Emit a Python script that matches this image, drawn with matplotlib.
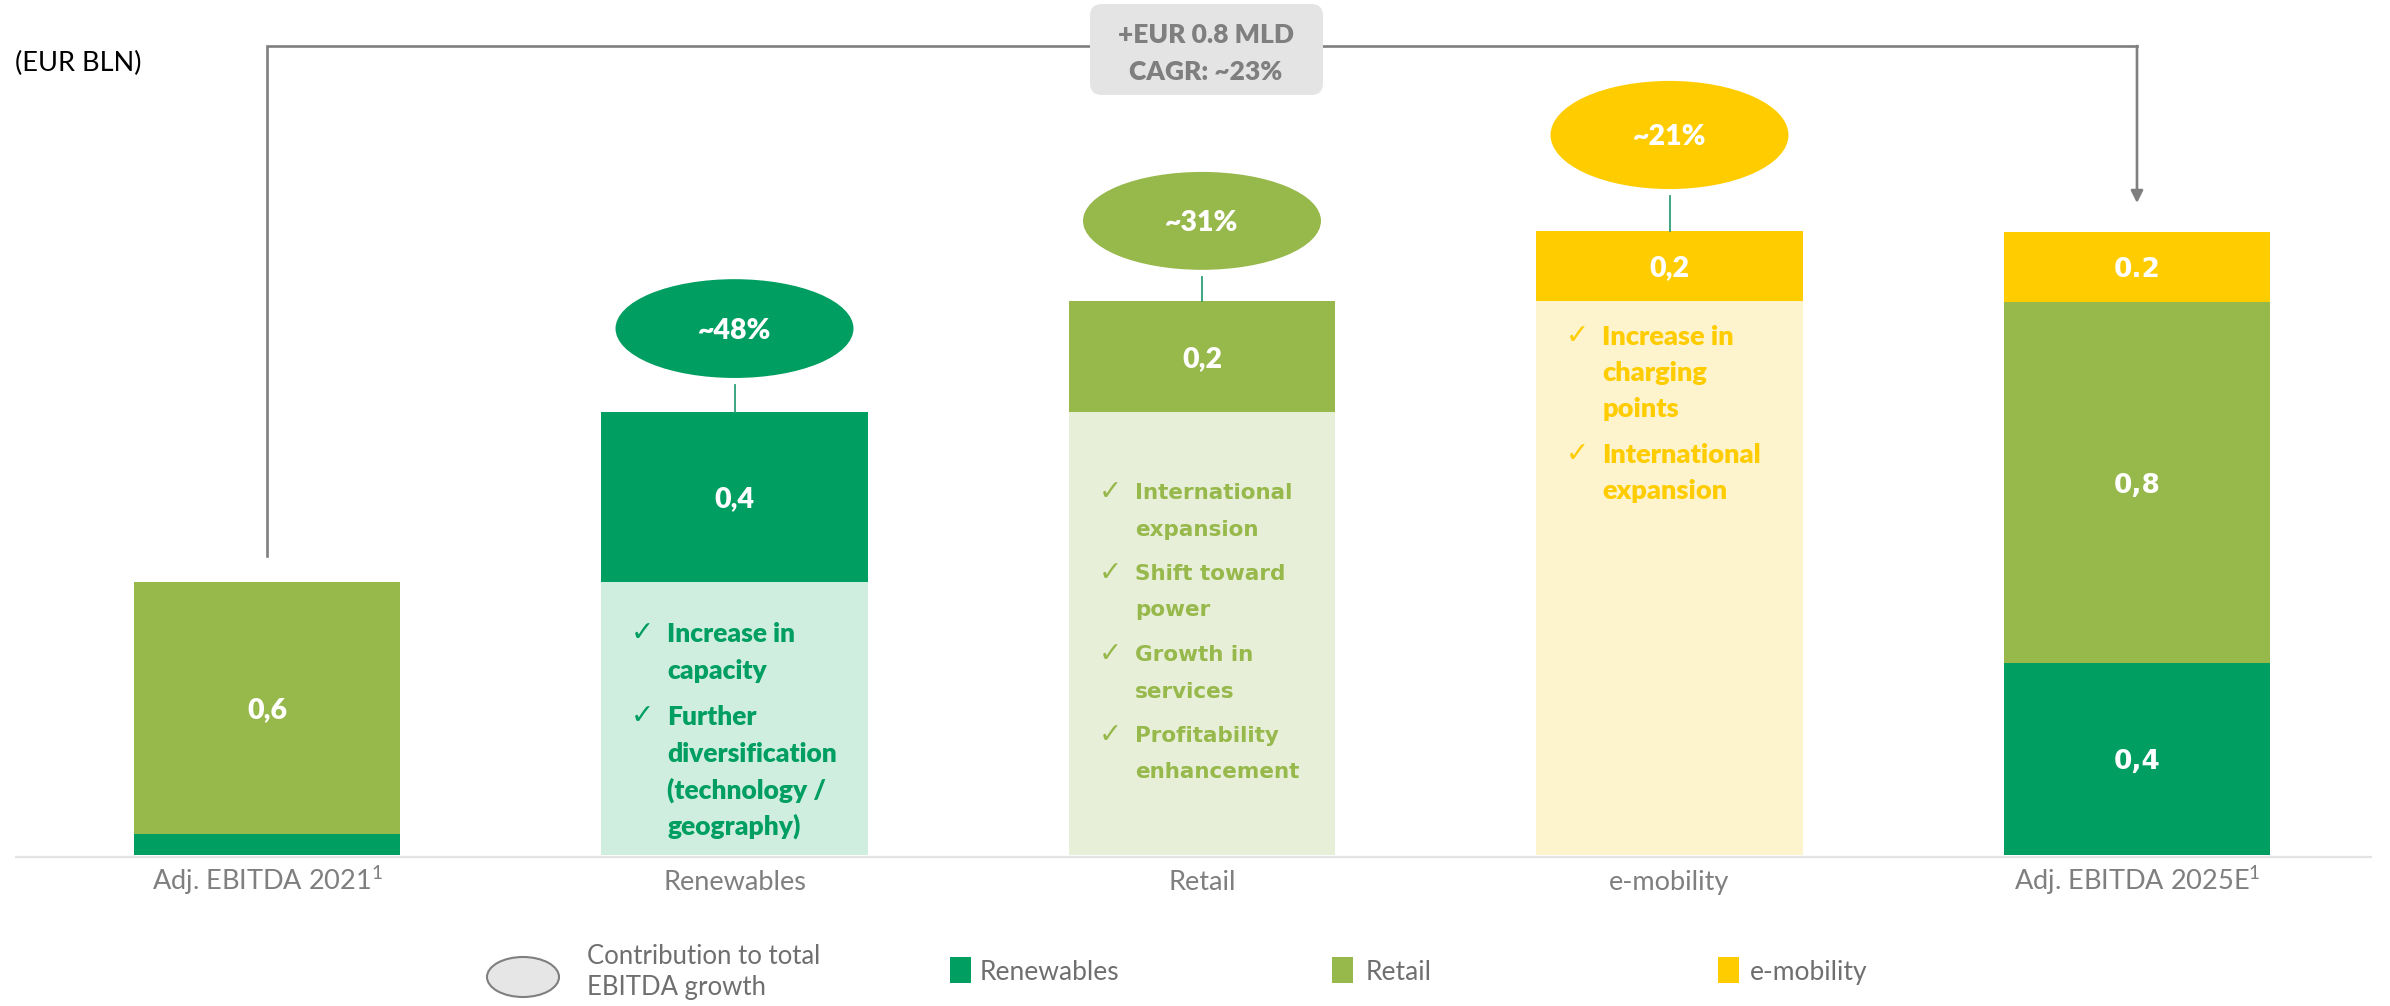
import matplotlib
matplotlib.use("Agg")
import matplotlib.pyplot as plt
from matplotlib.patches import Ellipse, FancyBboxPatch, Rectangle
import numpy as np

# ---------------- data ----------------
categories = ["Adj. EBITDA 2021", "Renewables", "Retail", "e-mobility", "Adj. EBITDA 2025E"]
tick_labels = ["Adj. EBITDA 2021$^{1}$", "Renewables", "Retail", "e-mobility", "Adj. EBITDA 2025E$^{1}$"]
segments = ["Renewables", "Retail", "e-mobility"]
start_2021 = [0.048, 0.565, 0.0]      # EUR bn, by segment
growth = [0.383, 0.250, 0.157]        # EUR bn, growth by segment
end_2025 = [0.431, 0.811, 0.157]      # EUR bn, by segment
start_labels = ["", "0,6", ""]
growth_labels = ["0,4", "0,2", "0,2"]
end_labels = ["0,4", "0,8", "0.2"]
contribution = ["~48%", "~31%", "~21%"]
bullets = [
    [["Increase in", "capacity"], ["Further", "diversification", "(technology /", "geography)"]],
    [["International", "expansion"], ["Shift toward", "power"], ["Growth in", "services"],
     ["Profitability", "enhancement"]],
    [["Increase in", "charging", "points"], ["International", "expansion"]],
]
box_text = ["+EUR 0.8 MLD", "CAGR: ~23%"]
unit_label = "(EUR BLN)"
legend_ellipse_label = "Contribution to total\nEBITDA growth"

# ---------------- style ----------------
COLORS = ["#009E60", "#97B84B", "#FFCC00"]
BG_COLORS = ["#CFEEE0", "#E8EFD9", "#FDF3CC"]
GREY = "#7F7F7F"
W, H = 2390, 1006
BASE_PX = 855          # pixel row of the baseline
PXU_Y = 445.0          # pixels per EUR bn
PXU_X = 467.5          # pixels per category step
X0_PX = 267            # pixel column of first category
BW = 0.57
BOLD = "heavy"

def py(p):  # pixel row -> data y (layout helper)
    return (BASE_PX - p) / PXU_Y

def pxx(p):  # pixel column -> data x (layout helper)
    return (p - X0_PX) / PXU_X

fig = plt.figure(figsize=(W / 100, H / 100), dpi=100)
plt.rcParams["mathtext.fontset"] = "custom"
plt.rcParams["mathtext.rm"] = "Lato"
plt.rcParams["mathtext.it"] = "Lato:italic"
plt.rcParams["mathtext.bf"] = "Lato:bold"

ax = fig.add_axes([0, (H - BASE_PX) / H, 1, BASE_PX / H])
ax.set_xlim(-X0_PX / PXU_X, (W - X0_PX) / PXU_X)
ax.set_ylim(0, BASE_PX / PXU_Y)
ax.axis("off")

x = np.arange(len(categories))

# baseline
ax.plot([pxx(15), pxx(2372)], [py(857), py(857)], color="#E3E3E3", lw=1.6, zorder=0.5,
        clip_on=False, solid_capstyle="butt")

# first bar (stacked)
bottom = 0.0
for i, seg in enumerate(segments):
    v = start_2021[i]
    if v > 0:
        ax.bar(x[0], v, bottom=bottom, width=BW, color=COLORS[i], zorder=2)
        if start_labels[i]:
            ax.text(x[0], bottom + v / 2, start_labels[i], ha="center", va="center_baseline",
                    color="white", fontsize=20.5, fontweight=BOLD, family="Lato", zorder=3)
    bottom += v

# floating growth bars with light background columns
base = sum(start_2021)
tops = []
for i, seg in enumerate(segments):
    xi = x[i + 1]
    ax.bar(xi, base, bottom=0, width=BW, color=BG_COLORS[i], zorder=1)
    ax.bar(xi, growth[i], bottom=base, width=BW, color=COLORS[i], zorder=2)
    ax.text(xi, base + growth[i] / 2, growth_labels[i], ha="center", va="center_baseline",
            color="white", fontsize=20.5, fontweight=BOLD, family="Lato", zorder=3)
    base += growth[i]
    tops.append(base)

# final bar (stacked)
bottom = 0.0
for i, seg in enumerate(segments):
    v = end_2025[i]
    ax.bar(x[4], v, bottom=bottom, width=BW, color=COLORS[i], zorder=2)
    ax.text(x[4], bottom + v / 2, end_labels[i], ha="center", va="center_baseline",
            color="white", fontsize=19, fontweight="bold", family="DejaVu Sans", zorder=3)
    bottom += v

# contribution ellipses
ell_offset = [0.187, 0.179, 0.215]
ell_height = [0.222, 0.220, 0.243]
ell_width = 0.509
for i in range(3):
    xi = x[i + 1]
    cy = tops[i] + ell_offset[i]
    e = Ellipse((xi, cy), ell_width, ell_height[i], facecolor=COLORS[i], edgecolor="none", zorder=3)
    ax.add_patch(e)
    ax.text(xi, cy, contribution[i], ha="center", va="center_baseline", color="white",
            fontsize=20.5, fontweight=BOLD, family="Lato", zorder=4)
    ax.plot([xi, xi], [tops[i], cy - ell_height[i] / 2 - 0.015], color="#2E9E78", lw=1.3, zorder=2)

# bullet lists
bullet_layout = [  # first line row px, line spacing px, extra gap px, font family, size, weight
    (632.5, 36.5, 9.5, "Lato", 19, BOLD),
    (491.0, 36.5, 8.0, "DejaVu Sans", 15.5, "bold"),
    (335.0, 36.0, 9.6, "Lato", 19.5, BOLD),
]
for i in range(3):
    first, step, gap, fam, fs, wt = bullet_layout[i]
    left = x[i + 1] - BW / 2
    row = first
    for item in bullets[i]:
        ax.text(left + 30 / PXU_X, py(row - 2), "\u2713", ha="left", va="center_baseline",
                color=COLORS[i], fontsize=20, family="DejaVu Sans", zorder=4)
        for line in item:
            ax.text(left + 66 / PXU_X, py(row), line, ha="left", va="center_baseline",
                    color=COLORS[i], fontsize=fs, fontweight=wt, family=fam, zorder=4)
            row += step
        row += gap

# category labels
for i, lab in enumerate(tick_labels):
    ax.text(x[i], py(890), lab, ha="center", va="baseline", color=GREY,
            fontsize=19.5, family="Lato", clip_on=False)

# growth bracket with arrow
ax.plot([x[0], x[0], x[4]], [py(556), py(46), py(46)], color=GREY, lw=1.9,
        solid_joinstyle="miter", zorder=1)
ax.annotate("", xy=(x[4], py(203)), xytext=(x[4], py(46)),
            arrowprops=dict(arrowstyle="-|>", color=GREY, lw=1.9, mutation_scale=18,
                            shrinkA=0, shrinkB=0), zorder=1)

# overlay axes in pixel coordinates for box, unit label and legend
lay = fig.add_axes([0, 0, 1, 1], zorder=5)
lay.set_xlim(0, W)
lay.set_ylim(H, 0)
lay.axis("off")
lay.patch.set_alpha(0)

box = FancyBboxPatch((1090, 4), 233, 91, boxstyle="round,pad=0,rounding_size=12",
                     facecolor="#E4E4E4", edgecolor="none")
lay.add_patch(box)
lay.text(1206, 33, box_text[0], ha="center", va="center_baseline", color=GREY,
         fontsize=19, fontweight=BOLD, family="Lato")
lay.text(1206, 70, box_text[1], ha="center", va="center_baseline", color=GREY,
         fontsize=19, fontweight=BOLD, family="Lato")

lay.text(15, 61, unit_label, ha="left", va="center_baseline", color="black",
         fontsize=19.5, family="Lato")

# legend
lay.add_patch(Ellipse((523, 977), 72, 40, facecolor="#E6E6E6", edgecolor=GREY, lw=1.5))
lay.text(587, 972, legend_ellipse_label, ha="left", va="center", color="#6F6F6F",
         fontsize=18.5, family="Lato", linespacing=1.35)
sq_x = [950, 1332, 1718]
txt_x = [980, 1366, 1750]
for i, seg in enumerate(segments):
    lay.add_patch(Rectangle((sq_x[i], 957), 21, 26, facecolor=COLORS[i], edgecolor="none"))
    lay.text(txt_x[i], 970, seg, ha="left", va="center_baseline", color="#6F6F6F",
             fontsize=19, family="Lato")

fig.savefig("out.png", dpi=100)
